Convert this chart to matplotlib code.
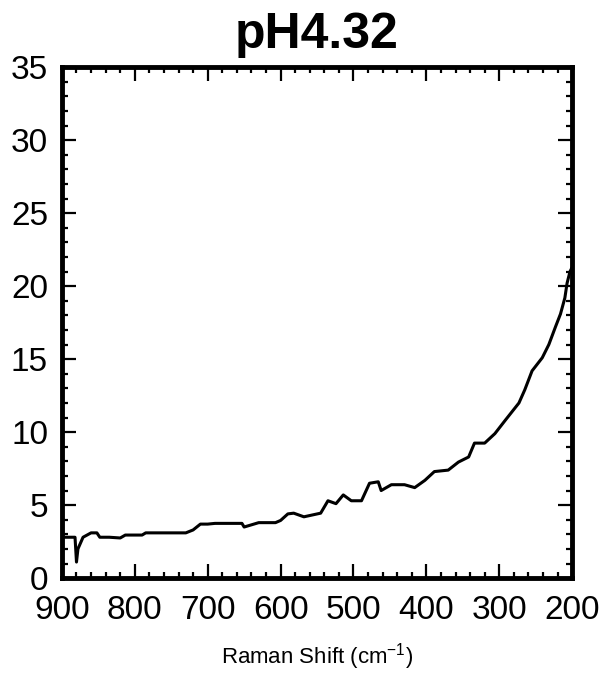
import matplotlib
matplotlib.use("Agg")
import matplotlib.pyplot as plt
from matplotlib.ticker import MultipleLocator

plt.rcParams['font.family'] = ['Liberation Sans', 'DejaVu Sans']
plt.rcParams['mathtext.default'] = 'regular'

title = "pH4.32"
xlabel = r"Raman Shift (cm$^{-1}$)"

shift = [900, 890, 882, 880, 878, 871, 860, 852, 848, 835, 820, 813, 800, 790,
         785, 760, 730, 720, 710, 700, 690, 670, 653, 650, 630, 607, 600, 590,
         582, 568, 545, 535, 524, 514, 503, 489, 478, 466, 462, 448, 430, 416,
         402, 389, 370, 356, 342, 334, 320, 306, 292, 273, 265, 255, 241, 232,
         223, 216, 210, 207, 203, 201]
intensity = [2.8, 2.8, 2.8, 1.1, 2.0, 2.8, 3.1, 3.1, 2.8, 2.8, 2.75, 2.95, 2.95, 2.95,
             3.1, 3.1, 3.1, 3.3, 3.7, 3.7, 3.75, 3.75, 3.75, 3.5, 3.8, 3.8, 3.95, 4.4,
             4.45, 4.2, 4.45, 5.3, 5.1, 5.7, 5.3, 5.3, 6.5, 6.6, 6.0, 6.4, 6.4, 6.2,
             6.7, 7.3, 7.4, 7.95, 8.3, 9.25, 9.25, 9.9, 10.8, 12.0, 12.9, 14.2, 15.1, 16.0,
             17.2, 18.1, 19.2, 20.2, 21.0, 21.2]

fig = plt.figure(figsize=(6.01, 6.73), dpi=100)
ax = fig.add_axes([0.103, 0.141, 0.849, 0.759])
ax.plot(shift, intensity, color='black', lw=2.2)
ax.set_xlim(900, 200)
ax.set_ylim(0, 35)
ax.xaxis.set_major_locator(MultipleLocator(100))
ax.xaxis.set_minor_locator(MultipleLocator(20))
ax.yaxis.set_major_locator(MultipleLocator(5))
ax.yaxis.set_minor_locator(MultipleLocator(1))
ax.tick_params(which='both', direction='in', top=True, right=True, width=1.6, labelsize=24)
ax.tick_params(which='major', length=10)
ax.tick_params(which='minor', length=4.5)
ax.tick_params(axis='x', pad=12)
ax.tick_params(axis='y', pad=10)
for s in ax.spines.values():
    s.set_linewidth(3.5)
ax.set_title(title, fontsize=36, fontweight='bold', pad=14)
ax.set_xlabel(xlabel, fontsize=16, labelpad=11)
fig.savefig("out.png", dpi=100)
